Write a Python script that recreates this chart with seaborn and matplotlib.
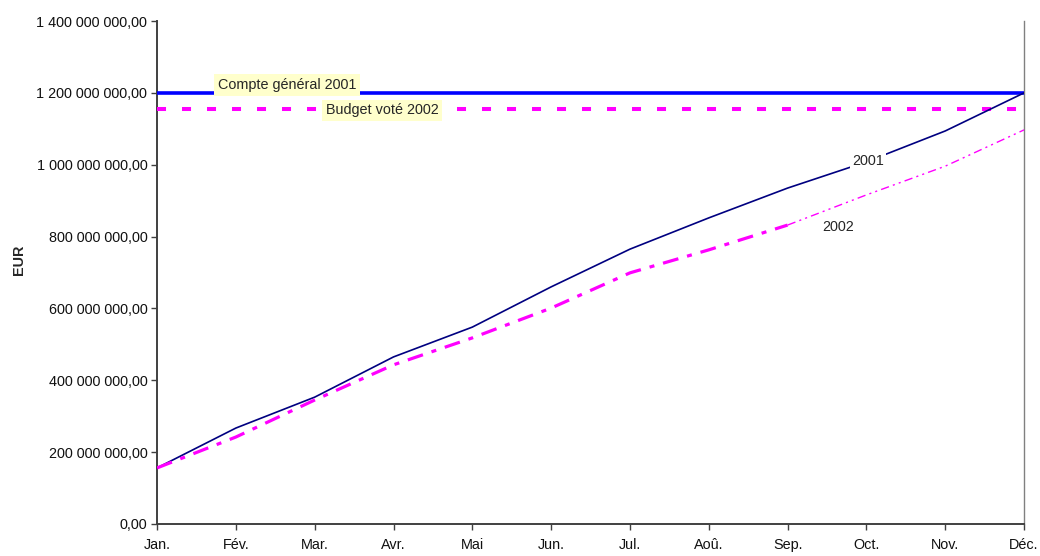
import numpy as np
import pandas as pd
import matplotlib
matplotlib.use("Agg")
import matplotlib.pyplot as plt
from matplotlib.ticker import FuncFormatter
import seaborn as sns

# Monthly cumulative expenditure (EUR)
months = ["Jan.", "Fév.", "Mar.", "Avr.", "Mai", "Jun.", "Jul.", "Aoû.",
          "Sep.", "Oct.", "Nov.", "Déc."]
values_2001 = [156e6, 267e6, 353e6, 465e6, 548e6, 660e6, 765e6, 852e6,
               935e6, 1008e6, 1094e6, 1200e6]
values_2002 = [156e6, 242e6, 345e6, 443e6, 518e6, 601e6, 699e6, 763e6,
               832e6, 916e6, 996e6, 1097e6]
last_actual_2002 = 8  # Sep.: realised up to here, projected afterwards

# Reference levels
compte_general_2001 = 1200e6
budget_vote_2002 = 1155e6

FS = 10.4

sns.set_theme(style="white")
plt.rcParams["font.family"] = ["Liberation Sans", "DejaVu Sans"]
plt.rcParams["lines.scale_dashes"] = False

df = pd.DataFrame({"pos": np.arange(len(months)),
                   "mois": months,
                   "y2001": values_2001,
                   "y2002": values_2002})
real_2002 = df.iloc[:last_actual_2002 + 1]
proj_2002 = df.iloc[last_actual_2002:]

fig = plt.figure(figsize=(10.4, 5.56), dpi=100)
ax = fig.add_axes([0.151, 0.0576, 0.8337, 0.9046])

# Reference horizontal lines
ax.axhline(compte_general_2001, color="#0000FF", lw=2.6, zorder=3)
ax.axhline(budget_vote_2002, color="#FF00FF", lw=2.9,
           dashes=(6.5, 11.5), zorder=3)

sns.lineplot(data=df, x="pos", y="y2001", ax=ax, color="#000080",
             lw=1.2, zorder=4)
sns.lineplot(data=real_2002, x="pos", y="y2002", ax=ax, color="#FF00FF",
             lw=2.3, zorder=4).lines[-1].set_dashes((11.5, 6.5, 3.6, 6.5))
sns.lineplot(data=proj_2002, x="pos", y="y2002", ax=ax, color="#FF00FF",
             lw=1.0, zorder=4).lines[-1].set_dashes((6, 3, 1.5, 3, 1.5, 3))

# Labels
box_yellow = dict(boxstyle="square,pad=0.25", fc="#FFFFCC", ec="none")
ax.text(1.65, 1.222e9, "Compte général 2001", ha="center", va="center",
        fontsize=FS, bbox=box_yellow, zorder=6)
ax.text(2.855, 1.152e9, "Budget voté 2002", ha="center", va="center",
        fontsize=FS, bbox=box_yellow, zorder=6)
ax.text(9.02, 1.010e9, "2001", ha="center", va="center", fontsize=FS,
        bbox=dict(boxstyle="square,pad=0.15", fc="white", ec="none"), zorder=6)
ax.text(8.64, 0.827e9, "2002", ha="center", va="center", fontsize=FS,
        zorder=6)

# Axes
ax.set_xlim(0, len(months) - 1)
ax.set_ylim(0, 1.4e9)
ax.set_xticks(df["pos"])
ax.set_xticklabels(months)
ax.set_yticks(np.arange(0, 1.4e9 + 1, 200e6))


def fr_format(v, _):
    s = f"{v:,.2f}"
    return s.replace(",", " ").replace(".", ",")


ax.yaxis.set_major_formatter(FuncFormatter(fr_format))
ax.set_xlabel("")
ax.set_ylabel("")
fig.text(19 / 1040, 1 - 260 / 556, "EUR", rotation=90, ha="center",
         va="center", fontsize=FS, fontweight="bold")
ax.tick_params(axis="both", which="major", direction="out", length=4,
               width=1, color="#404040", labelsize=FS, pad=3,
               left=True, bottom=True, labelcolor="#111111")
ax.tick_params(axis="x", pad=6)

for side in ("left", "bottom"):
    ax.spines[side].set_color("#404040")
    ax.spines[side].set_linewidth(1.4)
ax.spines["right"].set_color("#808080")
ax.spines["right"].set_linewidth(1.0)
ax.spines["top"].set_visible(False)
ax.grid(False)

fig.savefig("out.png", dpi=100)
